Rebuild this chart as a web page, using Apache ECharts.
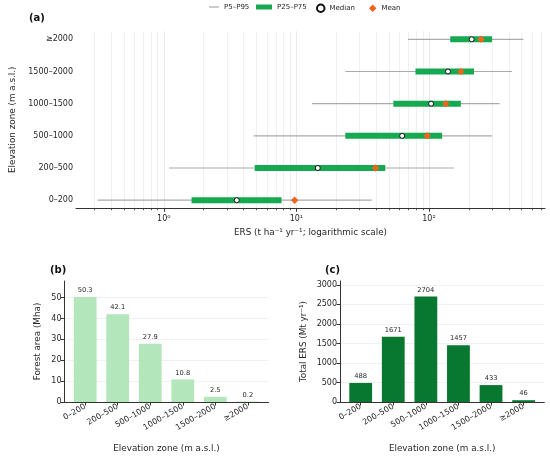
<!DOCTYPE html>
<html>
<head>
<meta charset="utf-8">
<script src="https://cdn.jsdelivr.net/npm/echarts@6.0.0/dist/echarts.min.js"></script>
<style>
  html, body { margin: 0; padding: 0; background: #fff; }
  #main { width: 550px; height: 457px; }
</style>
</head>
<body>
<div id="main"></div>
<script>
// elevation zones, shared by all three panels
var zones = ['0–200', '200–500', '500–1000', '1000–1500', '1500–2000', '≥2000'];

// (a) ERS distribution per zone, t ha-1 yr-1
var p5     = [0.317, 1.10, 4.76, 13.1, 23.4, 69.5];
var p25    = [1.62, 4.85, 23.4, 53.9, 79.1, 144.6];
var median = [3.55, 14.5, 62.8, 103.8, 139, 210];
var p75    = [7.73, 46.8, 125.7, 174, 218.6, 299];
var p95    = [37, 154, 299, 341, 423, 515];
var mean   = [9.7, 39.5, 97, 133.8, 174, 247];

// log axis ticks
var majorTicks = [1, 10, 100];
var minorTicks = [0.3, 0.4, 0.5, 0.6, 0.7, 0.8, 0.9,
                  2, 3, 4, 5, 6, 7, 8, 9,
                  20, 30, 40, 50, 60, 70, 80, 90,
                  200, 300, 400, 500, 600, 700];

// (b) forest area, Mha
var forestArea = [50.3, 42.1, 27.9, 10.8, 2.5, 0.2];
var areaTicks = [0, 10, 20, 30, 40, 50];

// (c) total ERS, Mt yr-1
var totalErs = [488, 1671, 2704, 1457, 433, 46];
var ersTicks = [0, 500, 1000, 1500, 2000, 2500, 3000];

var FONT = 'DejaVu Sans';
var TXT = '#262626';
var SUP = { '0': '⁰', '1': '¹', '2': '²' };

function lg(v) { return Math.log10(v); }
var idx = zones.map(function (z, i) { return i; });

// whiskers as one broken line
var whiskerData = [];
idx.forEach(function (i) {
    whiskerData.push([lg(p5[i]), i], [lg(p95[i]), i], null);
});

var myChart = echarts.init(document.getElementById('main'));

function bottomY(gridIndex, max, ticks, name, gap) {
    return {
        type: 'value', gridIndex: gridIndex, min: 0, max: max,
        name: name, nameLocation: 'middle', nameGap: gap,
        nameTextStyle: { fontFamily: FONT, fontSize: 8.8, color: TXT },
        axisLine: { show: true, onZero: false, lineStyle: { color: '#333', width: 1 } },
        axisTick: { show: true, length: 3.5, customValues: ticks, lineStyle: { color: '#333' } },
        axisLabel: {
            customValues: ticks, margin: 3, fontFamily: FONT, fontSize: 8, color: TXT,
            formatter: function (v) { return String(v); }
        },
        splitLine: { show: true, lineStyle: { color: '#eeeeee', width: 0.8 } }
    };
}

function bottomX(gridIndex) {
    return {
        type: 'value', gridIndex: gridIndex, min: -0.635, max: 5.635,
        name: 'Elevation zone (m a.s.l.)', nameLocation: 'middle', nameGap: 42,
        nameTextStyle: { fontFamily: FONT, fontSize: 8.8, color: TXT },
        axisLine: { show: true, onZero: false, lineStyle: { color: '#333', width: 1 } },
        axisTick: { show: true, length: 3.5, customValues: idx, lineStyle: { color: '#333' } },
        axisLabel: {
            customValues: idx, rotate: 30, margin: 4,
            fontFamily: FONT, fontSize: 8, color: TXT,
            formatter: function (v) { return zones[Math.round(v)]; }
        },
        splitLine: { show: false }
    };
}

var legendText = { fontFamily: FONT, fontSize: 7, color: TXT };

var option = {
    animation: false,
    textStyle: { fontFamily: FONT },
    title: [
        { text: '(a)', left: 29, top: 13, padding: 0, textStyle: { fontFamily: FONT, fontSize: 10, fontWeight: 'bold', color: '#111' } },
        { text: '(b)', left: 50, top: 265, padding: 0, textStyle: { fontFamily: FONT, fontSize: 10, fontWeight: 'bold', color: '#111' } },
        { text: '(c)', left: 325, top: 265, padding: 0, textStyle: { fontFamily: FONT, fontSize: 10, fontWeight: 'bold', color: '#111' } }
    ],
    legend: [
        {
            left: 209, top: 3.5, padding: 0,
            itemWidth: 10, itemHeight: 1.2,
            textStyle: legendText,
            data: [{ name: 'P5–P95', icon: 'rect' }]
        },
        {
            left: 256, top: 3.5, padding: 0,
            itemWidth: 16, itemHeight: 5,
            textStyle: legendText,
            data: [{ name: 'P25–P75', icon: 'rect' }]
        },
        {
            left: 316, top: 3.5, padding: 0,
            itemWidth: 7.5, itemHeight: 7.5, itemGap: 14,
            textStyle: legendText,
            data: [
                { name: 'Median', icon: 'circle' },
                { name: 'Mean', icon: 'diamond' }
            ]
        }
    ],
    grid: [
        { left: 64, width: 481, top: 31.25, height: 177 },
        { left: 64.5, width: 204, top: 281, height: 121 },
        { left: 340, width: 204.3, top: 281, height: 121 }
    ],
    xAxis: [
        {
            type: 'value', gridIndex: 0, min: -0.662, max: 2.875,
            name: 'ERS (t ha⁻¹ yr⁻¹; logarithmic scale)', nameLocation: 'middle', nameGap: 20,
            nameTextStyle: { fontFamily: FONT, fontSize: 8.8, color: TXT },
            axisLine: { show: true, onZero: false, lineStyle: { color: '#333', width: 1 } },
            axisTick: { show: true, length: 3.5, customValues: majorTicks.map(lg), lineStyle: { color: '#333' } },
            axisLabel: {
                customValues: majorTicks.map(lg), margin: 6.5,
                fontFamily: FONT, fontSize: 8, color: TXT,
                formatter: function (v) { return '10' + SUP[String(Math.round(v))]; }
            },
            splitLine: { show: true, lineStyle: { color: '#e4e4e4', width: 0.8 } }
        },
        {
            type: 'value', gridIndex: 0, min: -0.662, max: 2.875, position: 'bottom',
            axisLine: { show: false, onZero: false },
            axisTick: { show: true, length: 2, customValues: minorTicks.map(lg), lineStyle: { color: '#333', width: 0.8 } },
            axisLabel: { show: false },
            splitLine: { show: true, lineStyle: { color: '#ececec', width: 0.8 } }
        },
        bottomX(1),
        bottomX(2)
    ],
    yAxis: [
        {
            type: 'value', gridIndex: 0, min: -0.25, max: 5.25,
            name: 'Elevation zone (m a.s.l.)', nameLocation: 'middle', nameGap: 59,
            nameTextStyle: { fontFamily: FONT, fontSize: 8.8, color: TXT },
            axisLine: { show: false, onZero: false },
            axisTick: { show: false },
            axisLabel: {
                customValues: idx, margin: 3,
                fontFamily: FONT, fontSize: 8, color: TXT,
                formatter: function (v) { return zones[Math.round(v)]; }
            },
            splitLine: { show: false }
        },
        bottomY(1, 58, areaTicks, 'Forest area (Mha)', 22),
        bottomY(2, 3100, ersTicks, 'Total ERS (Mt yr⁻¹)', 32)
    ],
    series: [
        {
            name: 'P5–P95', type: 'line', xAxisIndex: 0, yAxisIndex: 0,
            data: whiskerData, symbol: 'none', connectNulls: false,
            lineStyle: { color: '#aaaaaa', width: 1.2 },
            itemStyle: { color: '#aaaaaa' }, z: 2
        },
        {
            name: 'P25–P75', type: 'custom', xAxisIndex: 0, yAxisIndex: 0,
            itemStyle: { color: '#16a951' },
            data: idx.map(function (i) { return [lg(p25[i]), lg(p75[i]), i]; }),
            encode: { x: [0, 1], y: 2 },
            renderItem: function (params, api) {
                var a = api.coord([api.value(0), api.value(2)]);
                var b = api.coord([api.value(1), api.value(2)]);
                return {
                    type: 'rect',
                    shape: { x: a[0], y: a[1] - 3, width: b[0] - a[0], height: 6 },
                    style: { fill: api.visual('color') }
                };
            },
            z: 3
        },
        {
            name: 'Median', type: 'scatter', xAxisIndex: 0, yAxisIndex: 0,
            data: idx.map(function (i) { return [lg(median[i]), i]; }),
            symbol: 'circle', symbolSize: 5,
            itemStyle: { color: '#ffffff', borderColor: '#111111', borderWidth: 1, opacity: 1 },
            z: 4
        },
        {
            name: 'Mean', type: 'scatter', xAxisIndex: 0, yAxisIndex: 0,
            data: idx.map(function (i) { return [lg(mean[i]), i]; }),
            symbol: 'diamond', symbolSize: 7.5,
            itemStyle: { color: '#f0641e', opacity: 1 },
            z: 5
        },
        {
            type: 'bar', xAxisIndex: 2, yAxisIndex: 1,
            data: idx.map(function (i) { return [i, forestArea[i]]; }),
            barWidth: '70%',
            itemStyle: { color: '#b4e6bb' },
            label: {
                show: true, position: 'top', distance: 3,
                fontFamily: FONT, fontSize: 6.7, color: TXT,
                formatter: function (p) { return forestArea[p.dataIndex].toFixed(1); }
            }
        },
        {
            type: 'bar', xAxisIndex: 3, yAxisIndex: 2,
            data: idx.map(function (i) { return [i, totalErs[i]]; }),
            barWidth: '70%',
            itemStyle: { color: '#08772f' },
            label: {
                show: true, position: 'top', distance: 3,
                fontFamily: FONT, fontSize: 6.7, color: TXT,
                formatter: function (p) { return String(totalErs[p.dataIndex]); }
            }
        }
    ]
};
myChart.setOption(option);
</script>
</body>
</html>
